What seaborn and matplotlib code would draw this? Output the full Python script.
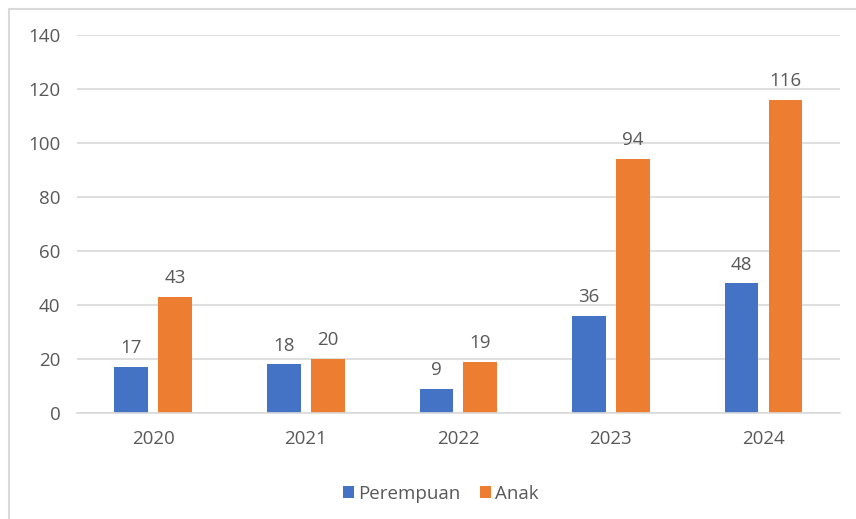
import matplotlib
matplotlib.use('Agg')
import matplotlib.pyplot as plt
import seaborn as sns
import pandas as pd

years = ['2020', '2021', '2022', '2023', '2024']
perempuan = [17, 18, 9, 36, 48]
anak = [43, 20, 19, 94, 116]

df = pd.DataFrame({
    'tahun': years * 2,
    'nilai': perempuan + anak,
    'kategori': ['Perempuan'] * len(years) + ['Anak'] * len(years),
})

sns.set_style('white')
plt.rcParams['font.family'] = ['Open Sans', 'DejaVu Sans']
grey = '#595959'

fig = plt.figure(figsize=(8.56, 5.19), dpi=100)
ax = fig.add_axes([0.09, 0.2042, 0.891, 0.7284])

sns.barplot(data=df, x='tahun', y='nilai', hue='kategori',
            palette={'Perempuan': '#4472C4', 'Anak': '#ED7D31'},
            saturation=1, linewidth=0,
            width=0.575, gap=0.23, ax=ax, legend=True)

for c in ax.containers:
    ax.bar_label(c, padding=7, fontsize=13.5, color=grey)

ax.set_ylim(0, 140)
ax.set_yticks(range(0, 141, 20))
ax.yaxis.grid(True, color='#d9d9d9', linewidth=1.2)
ax.set_axisbelow(True)
for s in ['top', 'right', 'left']:
    ax.spines[s].set_visible(False)
ax.spines['bottom'].set_color('#d9d9d9')
ax.spines['bottom'].set_linewidth(1.2)
ax.tick_params(axis='both', length=0, labelsize=13.5, labelcolor=grey, pad=12)
ax.set_xlabel('')
ax.set_ylabel('')

ax.legend(loc='upper center', bbox_to_anchor=(0.477, -0.145), ncol=2, frameon=False,
          fontsize=13.5, labelcolor=grey, handlelength=0.6, handleheight=0.6,
          handletextpad=0.25, columnspacing=1.0)

# chart border (top and left visible in the crop)
fig.add_artist(plt.Line2D([9/856, 1], [1 - 9/519, 1 - 9/519], color='#d9d9d9', lw=1.5))
fig.add_artist(plt.Line2D([9/856, 9/856], [0, 1 - 9/519], color='#d9d9d9', lw=1.5))

fig.savefig('out.png', dpi=100)
